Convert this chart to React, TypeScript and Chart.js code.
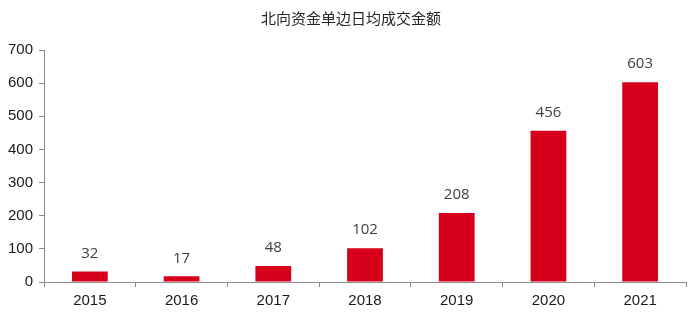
import React, { useEffect, useRef } from "react";
import { Chart, registerables } from "chart.js";

Chart.register(...registerables);

const title = "北向资金单边日均成交金额";
const categories = ["2015", "2016", "2017", "2018", "2019", "2020", "2021"];
const values = [32, 17, 48, 102, 208, 456, 603];
const yTicks = [0, 100, 200, 300, 400, 500, 600, 700];

const barColor = "#d7001b";
const axisColor = "#8c8c8c";

const labelPlugin = {
  id: "valueLabels",
  afterDatasetsDraw(chart: any) {
    const ctx = chart.ctx;
    const meta = chart.getDatasetMeta(0);
    ctx.save();
    ctx.font = "15px 'Open Sans', 'Noto Sans', sans-serif";
    ctx.fillStyle = "#404040";
    ctx.textAlign = "center";
    ctx.textBaseline = "middle";
    meta.data.forEach((bar: any, i: number) => {
      ctx.fillText(String(values[i]), bar.x, bar.y - 18);
    });
    ctx.restore();
  },
};

const titlePlugin = {
  id: "customTitle",
  afterDraw(chart: any) {
    const ctx = chart.ctx;
    ctx.save();
    ctx.font = "15px 'Noto Sans CJK SC', sans-serif";
    ctx.fillStyle = "#262626";
    ctx.textAlign = "center";
    ctx.textBaseline = "middle";
    ctx.fillText(title, 351, 18);
    ctx.restore();
  },
};

export default function App() {
  const ref = useRef<HTMLCanvasElement | null>(null);
  useEffect(() => {
    document.body.style.margin = "0";
    const chart = new Chart(ref.current as HTMLCanvasElement, {
      type: "bar",
      data: {
        labels: categories,
        datasets: [
          {
            data: values,
            backgroundColor: barColor,
            categoryPercentage: 1,
            barPercentage: 0.39,
          },
        ],
      },
      options: {
        animation: false,
        responsive: false,
        maintainAspectRatio: false,
        layout: { padding: { left: 0, right: 14, top: 50, bottom: 0 } },
        plugins: {
          legend: { display: false },
          tooltip: { enabled: false },
          title: { display: false },
        },
        scales: {
          x: {
            offset: true,
            grid: {
              display: true,
              offset: true,
              drawOnChartArea: false,
              drawTicks: true,
              tickLength: 5,
              color: axisColor,
            },
            border: { display: true, color: axisColor, width: 1 },
            ticks: {
              color: "#1a1a1a",
              font: { family: "'Liberation Sans', Arial, sans-serif", size: 15 },
              padding: 5,
              maxRotation: 0,
            },
            afterFit(scale: any) {
              scale.height = 33;
            },
          },
          y: {
            min: 0,
            max: 700,
            afterBuildTicks(scale: any) {
              scale.ticks = yTicks.map((v) => ({ value: v }));
            },
            grid: {
              display: true,
              drawOnChartArea: false,
              drawTicks: true,
              tickLength: 5,
              color: axisColor,
            },
            border: { display: true, color: axisColor, width: 1 },
            ticks: {
              color: "#1a1a1a",
              font: { family: "'Liberation Sans', Arial, sans-serif", size: 15 },
              padding: 6,
            },
            afterFit(scale: any) {
              scale.width = 44;
            },
          },
        },
      },
      plugins: [labelPlugin, titlePlugin],
    });
    return () => chart.destroy();
  }, []);
  return <canvas ref={ref} width={700} height={315} style={{ display: "block" }} />;
}
